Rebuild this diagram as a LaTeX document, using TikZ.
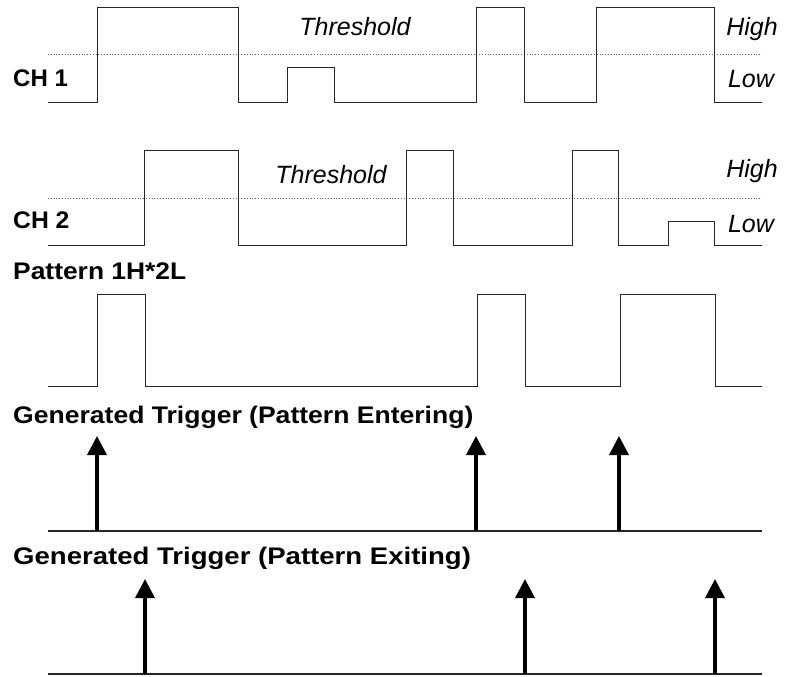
\documentclass[tikz,border=0pt]{standalone}
\usepackage{fontspec}
\setmainfont{Liberation Sans}
\usetikzlibrary{arrows.meta}
\begin{document}
\begin{tikzpicture}[x=1pt,y=-1pt,
  sig/.style={line width=0.9pt,draw=black!85},
  thr/.style={line width=0.8pt,draw=black!60,dotted},
  base/.style={line width=1.8pt,draw=black!85},
  trig/.style={line width=3.6pt,draw=black,-{Triangle[width=19pt,length=19pt]}},
  lbl/.style={anchor=base west,inner sep=0pt,font=\fontsize{24}{28}\selectfont\bfseries},
  itl/.style={anchor=base,inner sep=0pt,font=\fontsize{25}{29}\selectfont\itshape}]
\useasboundingbox (0,0) rectangle (788,677);
% CH 1
\draw[thr] (48,54) -- (762,54);
\draw[sig] (48,102) -| (97,7) -| (238,102) -| (287,67) -| (334,102) -| (476,7) -| (524,102) -| (596,7) -| (714,102) -- (762,102);
\node[lbl] (ch1) at (13,87) {CH 1};
\node[itl] (thr1) at (355,36) {Threshold};
\node[itl] (hi1) at (752,36) {High};
\node[itl] (lo1) at (751,88) {Low};
% CH 2
\draw[thr] (48,198) -- (762,198);
\draw[sig] (48,245) -| (144,150) -| (238,245) -| (406,150) -| (453,245) -| (572,150) -| (618,245) -| (668,221) -| (714,245) -- (762,245);
\node[lbl] (ch2) at (13,228) {\scalebox{1.03}[1]{CH 2}};
\node[itl] (thr2) at (331,183) {Threshold};
\node[itl] (hi2) at (752,177) {High};
\node[itl] (lo2) at (751,232) {Low};
% Pattern
\node[lbl] (pat) at (13,279) {\scalebox{1.10}[1]{Pattern 1H*2L}};
\draw[sig] (48,386) -| (97,294) -| (145,386) -| (477,294) -| (525,386) -| (620,294) -| (715,386) -- (762,386);
% Entering
\node[lbl] (ent) at (13,423) {\scalebox{1.106}[1]{Generated Trigger (Pattern Entering)}};
\coordinate (eL) at (48,531);
\coordinate (eR) at (762,531);
\draw[base] (eL) -- (eR);
\foreach \x [count=\i] in {97,476,619}{
  \coordinate (ea\i) at (\x,531);
  \coordinate (et\i) at (\x,436);
  \draw[trig] (ea\i) -- (et\i);
}
% Exiting
\node[lbl] (exi) at (13,564) {\scalebox{1.148}[1]{Generated Trigger (Pattern Exiting)}};
\coordinate (xL) at (48,674);
\coordinate (xR) at (762,674);
\draw[base] (xL) -- (xR);
\foreach \x [count=\i] in {145,525,715}{
  \coordinate (xa\i) at (\x,674);
  \coordinate (xt\i) at (\x,579);
  \draw[trig] (xa\i) -- (xt\i);
}
\end{tikzpicture}
\end{document}
